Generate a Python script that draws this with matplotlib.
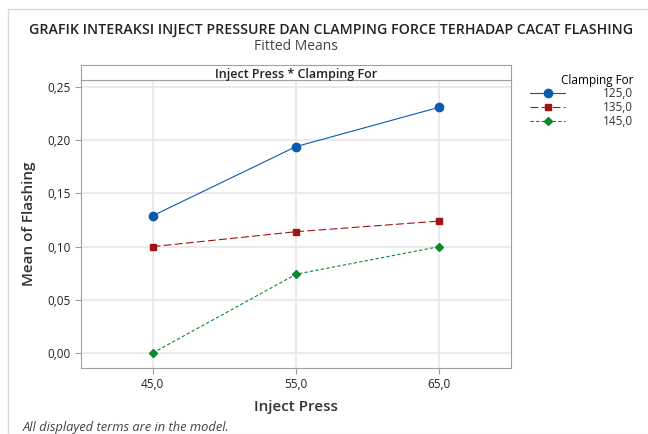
import numpy as np
import matplotlib
matplotlib.use("Agg")
import matplotlib.pyplot as plt
from matplotlib.patches import Rectangle
from matplotlib.ticker import FuncFormatter

plt.rcParams['font.family'] = ['Open Sans', 'DejaVu Sans']

# data
inject_press = [45.0, 55.0, 65.0]
clamp_labels = ['125,0', '135,0', '145,0']
mean_125 = [0.129, 0.194, 0.231]
mean_135 = [0.100, 0.114, 0.124]
mean_145 = [0.000, 0.074, 0.100]
y_ticks = [0.00, 0.05, 0.10, 0.15, 0.20, 0.25]

W, H = 648, 434
fig = plt.figure(figsize=(W / 100, H / 100), dpi=100)

# outer frame of the graph window
fig.patches.append(Rectangle((8 / W, 0), 1, 1 - 9 / H, transform=fig.transFigure,
                             fill=False, edgecolor='#D8D8D8', linewidth=1, zorder=0))

# main axes
ax = fig.add_axes([81 / W, (H - 368) / H, 430 / W, (368 - 80) / H])
ax.set_xlim(40, 70)
ax.set_ylim(-0.0141, 0.2566)

styles = [
    dict(color='#0B5AAE', marker='o', markersize=6, linestyle='-', linewidth=0.8),
    dict(color='#A01414', marker='s', markersize=4.8, linestyle=(0, (7, 3)), linewidth=0.8),
    dict(color='#0A8A2A', marker='D', markersize=4, linestyle=(0, (3, 2)), linewidth=0.8),
]
for vals, lab, st in zip([mean_125, mean_135, mean_145], clamp_labels, styles):
    ax.plot(inject_press, vals, label=lab, **st)

ax.set_xticks(inject_press)
ax.set_yticks(y_ticks)
fmt = FuncFormatter(lambda v, p: ('%.2f' % v).replace('.', ','))
ax.yaxis.set_major_formatter(fmt)
ax.xaxis.set_major_formatter(FuncFormatter(lambda v, p: ('%.1f' % v).replace('.', ',')))
ax.grid(True, color='#E8E8E8', linewidth=1.2)
ax.set_axisbelow(True)
for sp in ax.spines.values():
    sp.set_color('#A0A0A0')
ax.tick_params(colors='#A0A0A0', labelcolor='#222222', labelsize=8.5, length=4)
ax.set_xlabel('Inject Press', fontsize=11, color='#333333', labelpad=6, fontweight='semibold')
ax.set_ylabel('Mean of Flashing', fontsize=11, color='#333333', labelpad=8, fontweight='semibold')

# header strip
strip = fig.add_axes([81 / W, (H - 80) / H, 430 / W, 15 / H])
strip.set_xticks([])
strip.set_yticks([])
for sp in strip.spines.values():
    sp.set_color('#A0A0A0')
strip.text(0.5, 0.35, 'Inject Press * Clamping For', transform=strip.transAxes,
           ha='center', va='center', fontsize=9, color='#222222', fontweight='semibold')

fig.text(331 / W, 1 - 30 / H, 'GRAFIK INTERAKSI INJECT PRESSURE DAN CLAMPING FORCE TERHADAP CACAT FLASHING',
         ha='center', va='center', fontsize=10.2, color='#222222', fontweight='semibold')
fig.text(296 / W, 1 - 46 / H, 'Fitted Means', ha='center', va='center', fontsize=10, color='#444444')
fig.text(23 / W, 1 - 427 / H, 'All displayed terms are in the model.', ha='left', va='center',
         fontsize=9.3, style='italic', color='#444444')

leg = ax.legend(title='Clamping For', loc='upper left', bbox_to_anchor=(524 / W, 1 - 68 / H),
                bbox_transform=fig.transFigure, frameon=False, fontsize=8.5, title_fontsize=8.5,
                handlelength=3.0, labelspacing=0.05, handletextpad=3.2, borderpad=0)
leg._legend_box.align = 'right'
for t in leg.get_texts():
    t.set_color('#333333')

fig.savefig('out.png', dpi=100)
